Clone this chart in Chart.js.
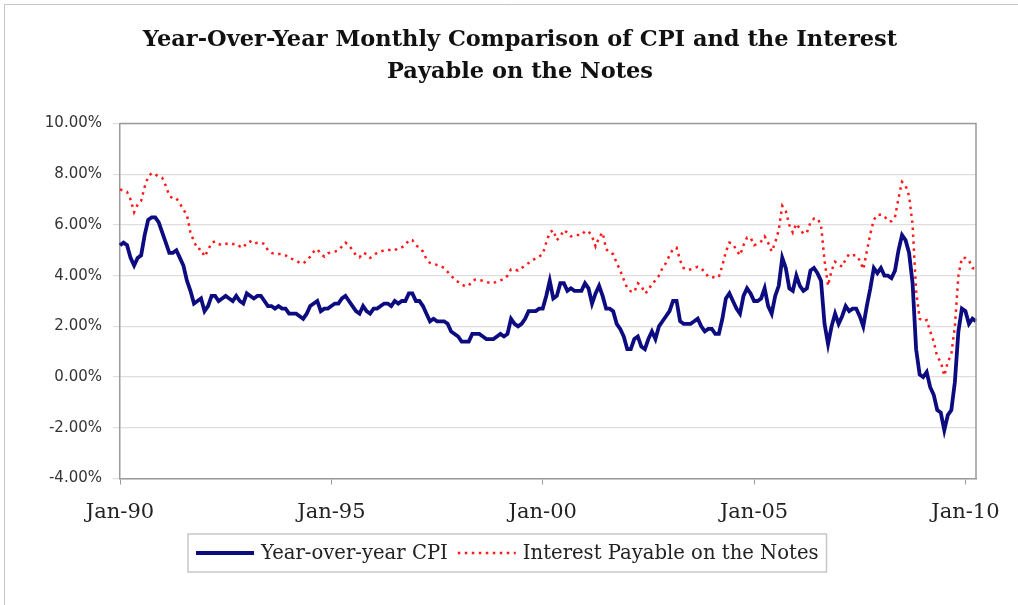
<!DOCTYPE html>
<html>
<head>
<meta charset="utf-8">
<script src="https://cdn.jsdelivr.net/npm/chart.js@4.4.1/dist/chart.umd.min.js"></script>
<style>
  html, body { margin: 0; padding: 0; background: #fff; }
  #wrap { position: relative; width: 1018px; height: 605px; }
</style>
</head>
<body>
<div id="wrap"><canvas id="cpiChart"></canvas></div>
<script>
// monthly, Jan-90 .. Apr-10
const startYear = 1990;
const tickLabels = ['Jan-90', 'Jan-95', 'Jan-00', 'Jan-05', 'Jan-10'];
const titleLines = ['Year-Over-Year Monthly Comparison of CPI and the Interest', 'Payable on the Notes'];

const cpiValues = [
  5.2, 5.3, 5.2, 4.7, 4.4, 4.7, 4.8, 5.6, 6.2, 6.3, 6.3, 6.1,
  5.7, 5.3, 4.9, 4.9, 5.0, 4.7, 4.4, 3.8, 3.4, 2.9, 3.0, 3.1,
  2.6, 2.8, 3.2, 3.2, 3.0, 3.1, 3.2, 3.1, 3.0, 3.2, 3.0, 2.9,
  3.3, 3.2, 3.1, 3.2, 3.2, 3.0, 2.8, 2.8, 2.7, 2.8, 2.7, 2.7,
  2.5, 2.5, 2.5, 2.4, 2.3, 2.5, 2.8, 2.9, 3.0, 2.6, 2.7, 2.7,
  2.8, 2.9, 2.9, 3.1, 3.2, 3.0, 2.8, 2.6, 2.5, 2.8, 2.6, 2.5,
  2.7, 2.7, 2.8, 2.9, 2.9, 2.8, 3.0, 2.9, 3.0, 3.0, 3.3, 3.3,
  3.0, 3.0, 2.8, 2.5, 2.2, 2.3, 2.2, 2.2, 2.2, 2.1, 1.8, 1.7,
  1.6, 1.4, 1.4, 1.4, 1.7, 1.7, 1.7, 1.6, 1.5, 1.5, 1.5, 1.6,
  1.7, 1.6, 1.7, 2.3, 2.1, 2.0, 2.1, 2.3, 2.6, 2.6, 2.6, 2.7,
  2.7, 3.2, 3.8, 3.1, 3.2, 3.7, 3.7, 3.4, 3.5, 3.4, 3.4, 3.4,
  3.7, 3.5, 2.9, 3.3, 3.6, 3.2, 2.7, 2.7, 2.6, 2.1, 1.9, 1.6,
  1.1, 1.1, 1.5, 1.6, 1.2, 1.1, 1.5, 1.8, 1.5, 2.0, 2.2, 2.4,
  2.6, 3.0, 3.0, 2.2, 2.1, 2.1, 2.1, 2.2, 2.3, 2.0, 1.8, 1.9,
  1.9, 1.7, 1.7, 2.3, 3.1, 3.3, 3.0, 2.7, 2.5, 3.2, 3.5, 3.3,
  3.0, 3.0, 3.1, 3.5, 2.8, 2.5, 3.2, 3.6, 4.7, 4.3, 3.5, 3.4,
  4.0, 3.6, 3.4, 3.5, 4.2, 4.3, 4.1, 3.8, 2.1, 1.3, 2.0, 2.5,
  2.1, 2.4, 2.8, 2.6, 2.7, 2.7, 2.4, 2.0, 2.8, 3.5, 4.3, 4.1,
  4.3, 4.0, 4.0, 3.9, 4.2, 5.0, 5.6, 5.4, 4.9, 3.7, 1.1, 0.1,
  0.0, 0.2, -0.4, -0.7, -1.3, -1.4, -2.1, -1.5, -1.3, -0.2, 1.8, 2.7,
  2.6, 2.1, 2.3, 2.2
];

const noteValues = [
  7.4, 7.35, 7.3, 7.0, 6.5, 6.8, 6.95, 7.5, 7.9, 8.05, 8.0, 7.9,
  7.85, 7.55, 7.15, 7.05, 7.05, 6.85, 6.6, 6.4, 5.7, 5.35, 5.05, 5.05,
  4.75, 5.0, 5.3, 5.35, 5.25, 5.2, 5.25, 5.28, 5.25, 5.25, 5.15, 5.1,
  5.3, 5.35, 5.25, 5.3, 5.3, 5.25, 5.0, 4.9, 4.85, 4.85, 4.85, 4.8,
  4.7, 4.65, 4.6, 4.5, 4.48, 4.6, 4.75, 4.95, 5.05, 4.85, 4.75, 4.88,
  4.92, 4.95, 5.0, 5.15, 5.3, 5.2, 5.0, 4.8, 4.72, 4.9, 4.85, 4.7,
  4.8, 4.9, 4.95, 5.0, 5.02, 5.0, 5.0, 5.1, 5.12, 5.2, 5.4, 5.4,
  5.2, 5.1, 4.95, 4.65, 4.5, 4.47, 4.42, 4.38, 4.3, 4.15, 4.0, 3.85,
  3.75, 3.65, 3.58, 3.6, 3.8, 3.85, 3.83, 3.8, 3.75, 3.72, 3.7, 3.78,
  3.82, 3.85, 4.0, 4.25, 4.25, 4.2, 4.3, 4.4, 4.5, 4.6, 4.68, 4.75,
  4.85, 5.3, 5.7, 5.8, 5.4, 5.55, 5.8, 5.7, 5.55, 5.6, 5.6, 5.6,
  5.75, 5.75, 5.55, 5.15, 5.5, 5.7, 5.05, 4.9, 4.85, 4.5, 4.2, 3.85,
  3.5, 3.38, 3.35, 3.7, 3.6, 3.3, 3.4, 3.7, 3.8, 4.0, 4.3, 4.5,
  4.8, 5.05, 5.1, 4.6, 4.3, 4.22, 4.25, 4.3, 4.35, 4.28, 4.15, 3.95,
  3.95, 3.92, 3.95, 4.4, 4.95, 5.3, 5.25, 5.0, 4.8, 5.2, 5.5, 5.5,
  5.2, 5.25, 5.35, 5.55, 5.3, 4.95, 5.3, 5.8, 6.75, 6.55, 6.0, 5.7,
  6.05, 5.85, 5.65, 5.7, 6.1, 6.25, 6.25, 6.0, 4.6, 3.6, 4.2, 4.55,
  4.45, 4.35, 4.65, 4.85, 4.8, 4.8, 4.6, 4.25, 4.95, 5.65, 6.2, 6.4,
  6.4, 6.35, 6.15, 6.15, 6.3, 7.05, 7.7, 7.55, 7.15, 6.0, 3.4, 2.3,
  2.2, 2.25, 1.8, 1.4, 0.8, 0.6, 0.05, 0.6, 0.9, 2.0, 4.0, 4.7,
  4.7, 4.6, 4.3, 4.25
];

const monthNames = ['Jan','Feb','Mar','Apr','May','Jun','Jul','Aug','Sep','Oct','Nov','Dec'];
const months = cpiValues.map(function(v, i) {
  const y = (startYear + Math.floor(i / 12)) % 100;
  return monthNames[i % 12] + '-' + String(y).padStart(2, '0');
});

// outer frame, title, plot border, boxed legend
const framePlugin = {
  id: 'framePlugin',
  afterDatasetsDraw(chart) {
    const a = chart.chartArea, ctx = chart.ctx;
    ctx.save();
    ctx.strokeStyle = '#9a9a9a';
    ctx.lineWidth = 1.5;
    ctx.beginPath();
    ctx.moveTo(a.left, a.top);
    ctx.lineTo(a.right, a.top);
    ctx.lineTo(a.right, a.bottom);
    ctx.stroke();
    ctx.restore();
  },
  afterDraw(chart) {
    const ctx = chart.ctx;
    ctx.save();
    ctx.strokeStyle = '#c4c4c4';
    ctx.lineWidth = 1;
    ctx.beginPath();
    ctx.moveTo(4.5, chart.height);
    ctx.lineTo(4.5, 4.5);
    ctx.lineTo(chart.width, 4.5);
    ctx.stroke();

    // title
    ctx.font = 'bold 22.5px "DejaVu Serif"';
    ctx.fillStyle = '#111';
    ctx.textAlign = 'center';
    ctx.textBaseline = 'middle';
    ctx.fillText(titleLines[0], 520, 40);
    ctx.fillText(titleLines[1], 520, 72);

    // legend
    ctx.font = '19.6px "DejaVu Serif"';
    ctx.textAlign = 'left';
    ctx.fillStyle = '#222';
    const sets = chart.data.datasets;
    const cy = 553;
    let x = 196;
    sets.forEach(function(ds) {
      ctx.save();
      ctx.strokeStyle = ds.borderColor;
      ctx.lineWidth = ds.borderWidth;
      ctx.setLineDash(ds.borderDash || []);
      ctx.beginPath();
      ctx.moveTo(x, cy);
      ctx.lineTo(x + 58, cy);
      ctx.stroke();
      ctx.restore();
      x += 65;
      ctx.fillText(ds.label, x, cy + 1);
      x += ctx.measureText(ds.label).width + 10;
    });
    ctx.strokeStyle = '#c8c8c8';
    ctx.lineWidth = 1.5;
    ctx.strokeRect(188, 534, x - 2 - 188, 38);
    ctx.restore();
  }
};

new Chart(document.getElementById('cpiChart'), {
  type: 'line',
  data: {
    labels: months,
    datasets: [{
        label: 'Year-over-year CPI',
        data: cpiValues,
        borderColor: '#0c0c80',
        borderWidth: 3.8,
        pointRadius: 0,
        fill: false
      }, {
        label: 'Interest Payable on the Notes',
        data: noteValues,
        borderColor: '#ff1a1a',
        borderWidth: 2.5,
        borderDash: [2.5, 4.5],
        pointRadius: 0,
        fill: false
      }
    ]
  },
  options: {
    responsive: true,
    maintainAspectRatio: false,
    animation: false,
    layout: {
      padding: { left: 20, right: 42, top: 123.5, bottom: 76 }
    },
    plugins: {
      legend: { display: false },
      tooltip: { enabled: false },
      title: { display: false }
    },
    scales: {
      x: {
        afterFit: function(scale) { scale.height = 50.5; },
        grid: {
          drawOnChartArea: false,
          tickLength: 6,
          color: function(c) {
            return c.tick && tickLabels.indexOf(months[c.index]) >= 0 ? '#9a9a9a' : 'rgba(0,0,0,0)';
          }
        },
        border: { color: '#9a9a9a', width: 1.5 },
        ticks: {
          autoSkip: false,
          maxRotation: 0,
          padding: 15,
          color: '#222',
          font: { family: '"DejaVu Serif"', size: 21 },
          callback: function(v, i) {
            return tickLabels.indexOf(months[i]) >= 0 ? months[i] : '';
          }
        }
      },
      y: {
        min: -4,
        max: 10,
        afterFit: function(scale) { scale.width = 100; },
        grid: { color: '#dedede', lineWidth: 1.2, tickLength: 7 },
        border: { color: '#9a9a9a', width: 1.5 },
        ticks: {
          stepSize: 2,
          padding: 11,
          color: '#333',
          font: { family: '"DejaVu Sans"', size: 15 },
          callback: function(v) { return v.toFixed(2) + '%'; }
        }
      }
    }
  },
  plugins: [framePlugin]
});
</script>
</body>
</html>
